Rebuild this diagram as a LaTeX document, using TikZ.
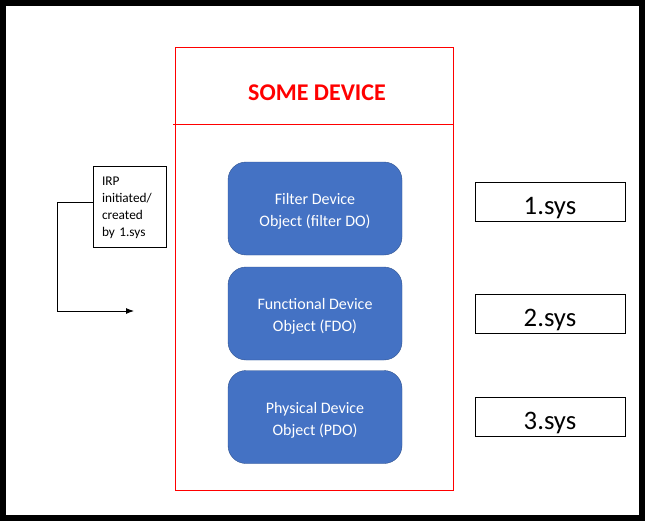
\documentclass[tikz,border=0pt]{standalone}
\usepackage{fontspec}
\setmainfont{Carlito}
\usetikzlibrary{arrows.meta,positioning}
\definecolor{objblue}{HTML}{4472C4}
\definecolor{objedge}{HTML}{2F528F}

\begin{document}
\begin{tikzpicture}[x=1pt,y=-1pt,>={Latex[length=8pt,width=6pt]},
  obj/.style={draw=objedge,fill=objblue,rounded corners=18pt,minimum width=174pt,minimum height=93pt,text=white,align=center,text height=36pt,text depth=0pt,font=\fontsize{16}{22}\selectfont},
  sysbox/.style={draw,line width=0.9pt,minimum width=150pt,minimum height=39pt,text height=24pt,text depth=0pt,font=\fontsize{26.7}{30}\selectfont}]
  \useasboundingbox (0,0) rectangle (646,522);
  \draw[line width=6pt] (3,3) rectangle (642,518);
  % the device and its stack
  \node[draw=red,line width=0.9pt,minimum width=278pt,minimum height=443pt,anchor=north west] (dev) at (175,47) {};
  \draw[red,line width=0.9pt] (173,124) -- (dev.east |- 0,124);
  \node[text=red,font=\fontsize{24}{28}\selectfont\bfseries] (title) at (317,92.3) {SOME DEVICE};
  \node[obj] (fdo1) at (315,208.5) {Filter Device\\Object (filter DO)};
  \node[obj] (fdo2) at (315,313.5) {Functional Device\\Object (FDO)};
  \node[obj] (pdo) at (315,417) {Physical Device\\Object (PDO)};
  % drivers
  \node[sysbox] (sys1) at (550,202) {1.sys};
  \node[sysbox] (sys2) at (550,314) {2.sys};
  \node[sysbox] (sys3) at (550,417) {3.sys};
  % the request
  \node[draw,line width=0.9pt,text width=55pt,inner xsep=9pt,minimum height=81pt,align=left,text height=12pt,text depth=55pt,font=\fontsize{13.3}{17.3}\selectfont] (irp) at (129.5,206.5) {IRP\\initiated/\\created\\by 1.sys};
  \coordinate (tip) at (134,311);
  \draw[->,line width=0.9pt] ([yshift=4pt]irp.west) -- ++(-35,0) |- (tip);
\end{tikzpicture}
\end{document}
